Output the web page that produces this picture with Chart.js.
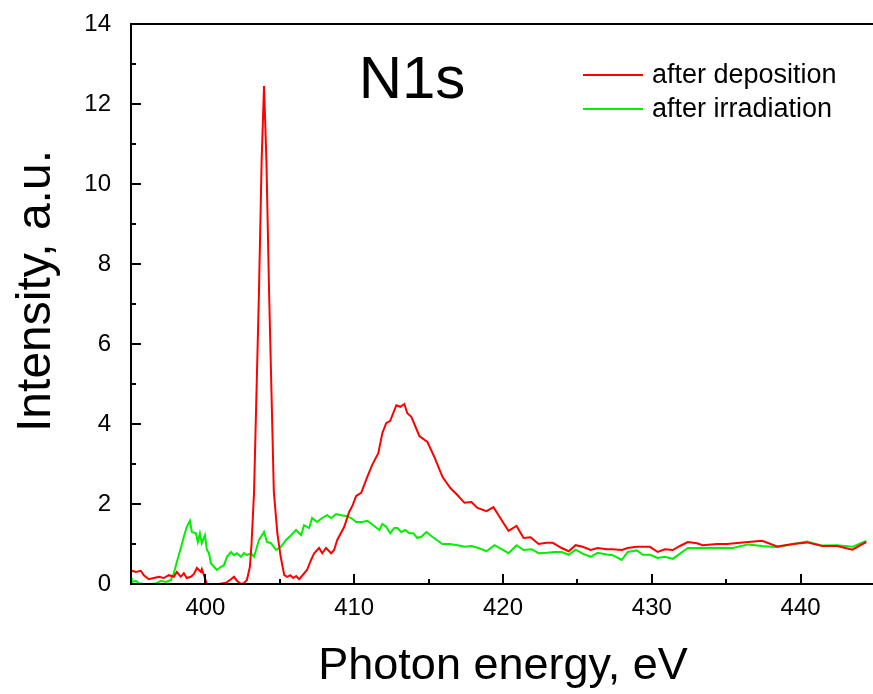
<!DOCTYPE html>
<html>
<head>
<meta charset="utf-8">
<title>N1s</title>
<script src="https://cdn.jsdelivr.net/npm/chart.js@4/dist/chart.umd.min.js"></script>
<style>
  html, body { margin: 0; padding: 0; background: #fff; overflow: hidden; }
  #wrap { position: relative; width: 880px; height: 694px; }
</style>
</head>
<body>
<div id="wrap"><canvas id="c" width="880" height="694"></canvas></div>
<script>
// N1s spectra: photon energy (eV) and intensity (a.u.)
const depositionEnergy = [
  395.06, 395.32, 395.66, 395.86, 396.2, 396.53, 396.87, 397.2, 397.54, 397.88,
  398.08, 398.35, 398.55, 398.75, 399.02, 399.23, 399.43, 399.7, 399.76, 399.97,
  400.1, 400.44, 400.91, 401.38, 401.72, 401.92, 402.12, 402.39, 402.59, 402.79,
  402.99, 403.1, 403.27, 403.6, 403.78, 403.94, 404.1, 404.28, 404.6, 404.84,
  405.06, 405.3, 405.5, 405.7, 405.9, 406.1, 406.3, 406.83, 407.1, 407.31,
  407.64, 407.85, 408.11, 408.45, 408.65, 408.86, 409.33, 409.66, 409.9, 410.13,
  410.47, 410.88, 411.21, 411.62, 411.89, 412.15, 412.42, 412.83, 413.1, 413.37,
  413.57, 413.84, 414.38, 414.92, 415.39, 415.93, 416.46, 416.87, 417.41, 417.88,
  418.28, 418.89, 419.36, 419.9, 420.37, 420.91, 421.38, 421.85, 422.39, 422.93,
  423.34, 423.94, 424.41, 424.88, 425.35, 425.89, 426.36, 426.97, 427.37, 427.98,
  428.38, 428.99, 429.39, 429.87, 430.4, 430.88, 431.41, 431.89, 432.42, 433.03,
  433.43, 434.38, 435.05, 435.93, 437.41, 438.42, 439.5, 440.44, 441.45, 442.46,
  443.47, 444.41
];
const depositionIntensity = [
  0.33, 0.30, 0.33, 0.22, 0.12, 0.15, 0.18, 0.15, 0.22, 0.18,
  0.30, 0.18, 0.27, 0.15, 0.18, 0.25, 0.40, 0.30, 0.37, 0.15,
  0.00, 0.00, 0.00, 0.03, 0.12, 0.18, 0.08, 0.00, 0.02, 0.10,
  0.43, 1.00, 2.30, 7.30, 10.60, 12.45, 10.60, 7.30, 2.30, 1.25,
  0.68, 0.22, 0.18, 0.22, 0.15, 0.20, 0.12, 0.35, 0.60, 0.77,
  0.90, 0.77, 0.90, 0.77, 0.85, 1.10, 1.43, 1.80, 1.97, 2.20,
  2.28, 2.68, 2.98, 3.27, 3.77, 4.02, 4.08, 4.47, 4.43, 4.50,
  4.27, 4.18, 3.70, 3.55, 3.17, 2.68, 2.40, 2.25, 2.03, 2.05,
  1.90, 1.82, 1.92, 1.60, 1.33, 1.45, 1.15, 1.17, 1.00, 1.03,
  1.03, 0.90, 0.82, 0.97, 0.93, 0.85, 0.90, 0.87, 0.87, 0.85,
  0.90, 0.93, 0.93, 0.93, 0.80, 0.87, 0.85, 0.95, 1.05, 1.02,
  0.97, 1.00, 1.00, 1.03, 1.08, 0.94, 1.00, 1.04, 0.95, 0.95,
  0.86, 1.05
];
const irradiationEnergy = [
  395.0, 395.05, 395.32, 395.52, 395.86, 396.33, 396.73, 397.0, 397.34, 397.68,
  397.88, 398.08, 398.35, 398.55, 398.75, 398.96, 399.09, 399.36, 399.49, 399.63,
  399.76, 399.97, 400.1, 400.24, 400.37, 400.57, 400.77, 401.04, 401.25, 401.45,
  401.72, 401.92, 402.12, 402.39, 402.59, 402.79, 403.06, 403.27, 403.6, 403.94,
  404.14, 404.41, 404.75, 405.08, 405.42, 405.76, 406.09, 406.43, 406.63, 406.97,
  407.17, 407.51, 407.85, 408.18, 408.45, 408.79, 409.12, 409.46, 409.8, 410.13,
  410.54, 410.88, 411.35, 411.68, 411.89, 412.15, 412.42, 412.69, 412.9, 413.16,
  413.43, 413.7, 413.97, 414.24, 414.51, 414.85, 415.25, 415.93, 416.4, 416.94,
  417.41, 417.88, 418.35, 418.89, 419.43, 419.9, 420.37, 420.91, 421.38, 421.92,
  422.39, 422.93, 423.47, 423.94, 424.41, 424.88, 425.35, 425.89, 426.36, 426.97,
  427.37, 427.98, 428.38, 428.99, 429.39, 429.87, 430.4, 430.88, 431.41, 432.42,
  433.43, 434.58, 435.45, 436.46, 437.41, 438.42, 439.5, 440.44, 441.45, 442.46,
  443.47, 444.41
];
const irradiationIntensity = [
  0.15, 0.05, 0.08, 0.02, 0.00, 0.00, 0.02, 0.08, 0.05, 0.10,
  0.27, 0.55, 0.90, 1.18, 1.43, 1.58, 1.30, 1.27, 1.05, 1.27,
  1.02, 1.22, 0.85, 0.77, 0.52, 0.43, 0.35, 0.43, 0.47, 0.68,
  0.80, 0.72, 0.77, 0.68, 0.77, 0.72, 0.77, 0.68, 1.10, 1.30,
  1.05, 1.02, 0.85, 0.93, 1.10, 1.22, 1.35, 1.22, 1.47, 1.40,
  1.65, 1.55, 1.65, 1.72, 1.65, 1.75, 1.72, 1.70, 1.65, 1.55,
  1.55, 1.58, 1.45, 1.35, 1.50, 1.43, 1.27, 1.40, 1.40, 1.30,
  1.35, 1.27, 1.27, 1.15, 1.18, 1.30, 1.18, 1.00, 1.00, 0.97,
  0.93, 0.95, 0.90, 0.82, 0.97, 0.87, 0.77, 0.97, 0.85, 0.87,
  0.77, 0.78, 0.80, 0.80, 0.73, 0.86, 0.76, 0.68, 0.78, 0.74,
  0.72, 0.60, 0.80, 0.84, 0.73, 0.73, 0.65, 0.68, 0.63, 0.90,
  0.90, 0.90, 0.90, 0.99, 0.95, 0.92, 1.00, 1.06, 0.96, 0.97,
  0.93, 1.08
];
const seriesLabels = ['after deposition', 'after irradiation'];
const xTickValues = [400, 410, 420, 430, 440];
const yTickValues = [0, 2, 4, 6, 8, 10, 12, 14];
const panelTitle = 'N1s';
const xTitle = 'Photon energy, eV';
const yTitle = 'Intensity, a.u.';
const xRange = [395, 445];
const yRange = [0, 14];

const FONT = '"Liberation Sans", Arial, sans-serif';

function toPoints(xs, ys) {
  return xs.map((x, i) => ({ x: x, y: ys[i] }));
}

// Frame, inward tick marks, axis titles, panel label and legend
const decorations = {
  id: 'decorations',
  afterDraw(chart) {
    const ctx = chart.ctx;
    const a = chart.chartArea;
    const xs = chart.scales.x;
    const ys = chart.scales.y;
    ctx.save();
    ctx.strokeStyle = '#000';
    ctx.lineWidth = 2;
    ctx.lineCap = 'square';
    ctx.beginPath();
    ctx.moveTo(a.left, a.bottom);
    ctx.lineTo(a.left, a.top);
    ctx.lineTo(a.right, a.top);
    ctx.lineTo(a.right, a.bottom);
    ctx.lineTo(a.left, a.bottom);
    ctx.stroke();

    ctx.lineCap = 'butt';
    ctx.beginPath();
    for (let v = yRange[0]; v <= yRange[1]; v += 1) {
      const py = Math.round(ys.getPixelForValue(v));
      const len = v % 2 === 0 ? 10 : 5;
      ctx.moveTo(a.left, py);
      ctx.lineTo(a.left + len, py);
    }
    for (let v = xRange[0]; v <= xRange[1]; v += 5) {
      const px = Math.round(xs.getPixelForValue(v));
      const len = v % 10 === 0 ? 10 : 5;
      ctx.moveTo(px, a.bottom);
      ctx.lineTo(px, a.bottom - len);
    }
    ctx.stroke();

    ctx.fillStyle = '#000';
    // x title
    ctx.font = '45px ' + FONT;
    ctx.textAlign = 'center';
    ctx.textBaseline = 'alphabetic';
    ctx.fillText(xTitle, (a.left + a.right) / 2, 679);
    // y title
    ctx.save();
    ctx.font = '48px ' + FONT;
    ctx.translate(50, 291);
    ctx.rotate(-Math.PI / 2);
    ctx.fillText(yTitle, 0, 0);
    ctx.restore();

    // panel label
    ctx.font = '60px ' + FONT;
    ctx.fillText(panelTitle, 412, 98);

    // legend
    ctx.font = '27px ' + FONT;
    ctx.textAlign = 'left';
    ctx.textBaseline = 'middle';
    const rows = [75, 109];
    chart.data.datasets.forEach((ds, i) => {
      const y = rows[i];
      ctx.strokeStyle = ds.borderColor;
      ctx.lineWidth = 2;
      ctx.beginPath();
      ctx.moveTo(583, y);
      ctx.lineTo(643, y);
      ctx.stroke();
      ctx.fillText(ds.label, 652, y + 1);
    });
    ctx.restore();
  }
};

new Chart(document.getElementById('c'), {
  type: 'scatter',
  data: {
    datasets: [
      {
        label: seriesLabels[0],
        data: toPoints(depositionEnergy, depositionIntensity),
        borderColor: '#ff0000',
        backgroundColor: '#ff0000',
        borderWidth: 2,
        showLine: true,
        pointRadius: 0,
        tension: 0
      },
      {
        label: seriesLabels[1],
        data: toPoints(irradiationEnergy, irradiationIntensity),
        borderColor: '#00f000',
        backgroundColor: '#00f000',
        borderWidth: 2,
        showLine: true,
        pointRadius: 0,
        tension: 0
      }
    ]
  },
  options: {
    responsive: false,
    animation: false,
    layout: { padding: { top: 24, right: 5, left: 0, bottom: 0 } },
    plugins: { legend: { display: false }, tooltip: { enabled: false } },
    scales: {
      x: {
        type: 'linear',
        min: xRange[0],
        max: xRange[1],
        afterBuildTicks(s) { s.ticks = xTickValues.map(v => ({ value: v })); },
        afterFit(s) { s.height = 110; s.paddingLeft = 0; s.paddingRight = 0; },
        grid: { display: false, drawTicks: false },
        border: { display: false },
        ticks: {
          padding: 10,
          color: '#000',
          font: { family: FONT, size: 24 }
        }
      },
      y: {
        type: 'linear',
        min: yRange[0],
        max: yRange[1],
        afterBuildTicks(s) { s.ticks = yTickValues.map(v => ({ value: v })); },
        afterFit(s) { s.width = 131; s.paddingTop = 0; s.paddingBottom = 0; },
        grid: { display: false, drawTicks: false },
        border: { display: false },
        ticks: {
          padding: 20,
          color: '#000',
          font: { family: FONT, size: 24 }
        }
      }
    }
  },
  plugins: [decorations]
});
</script>
</body>
</html>
